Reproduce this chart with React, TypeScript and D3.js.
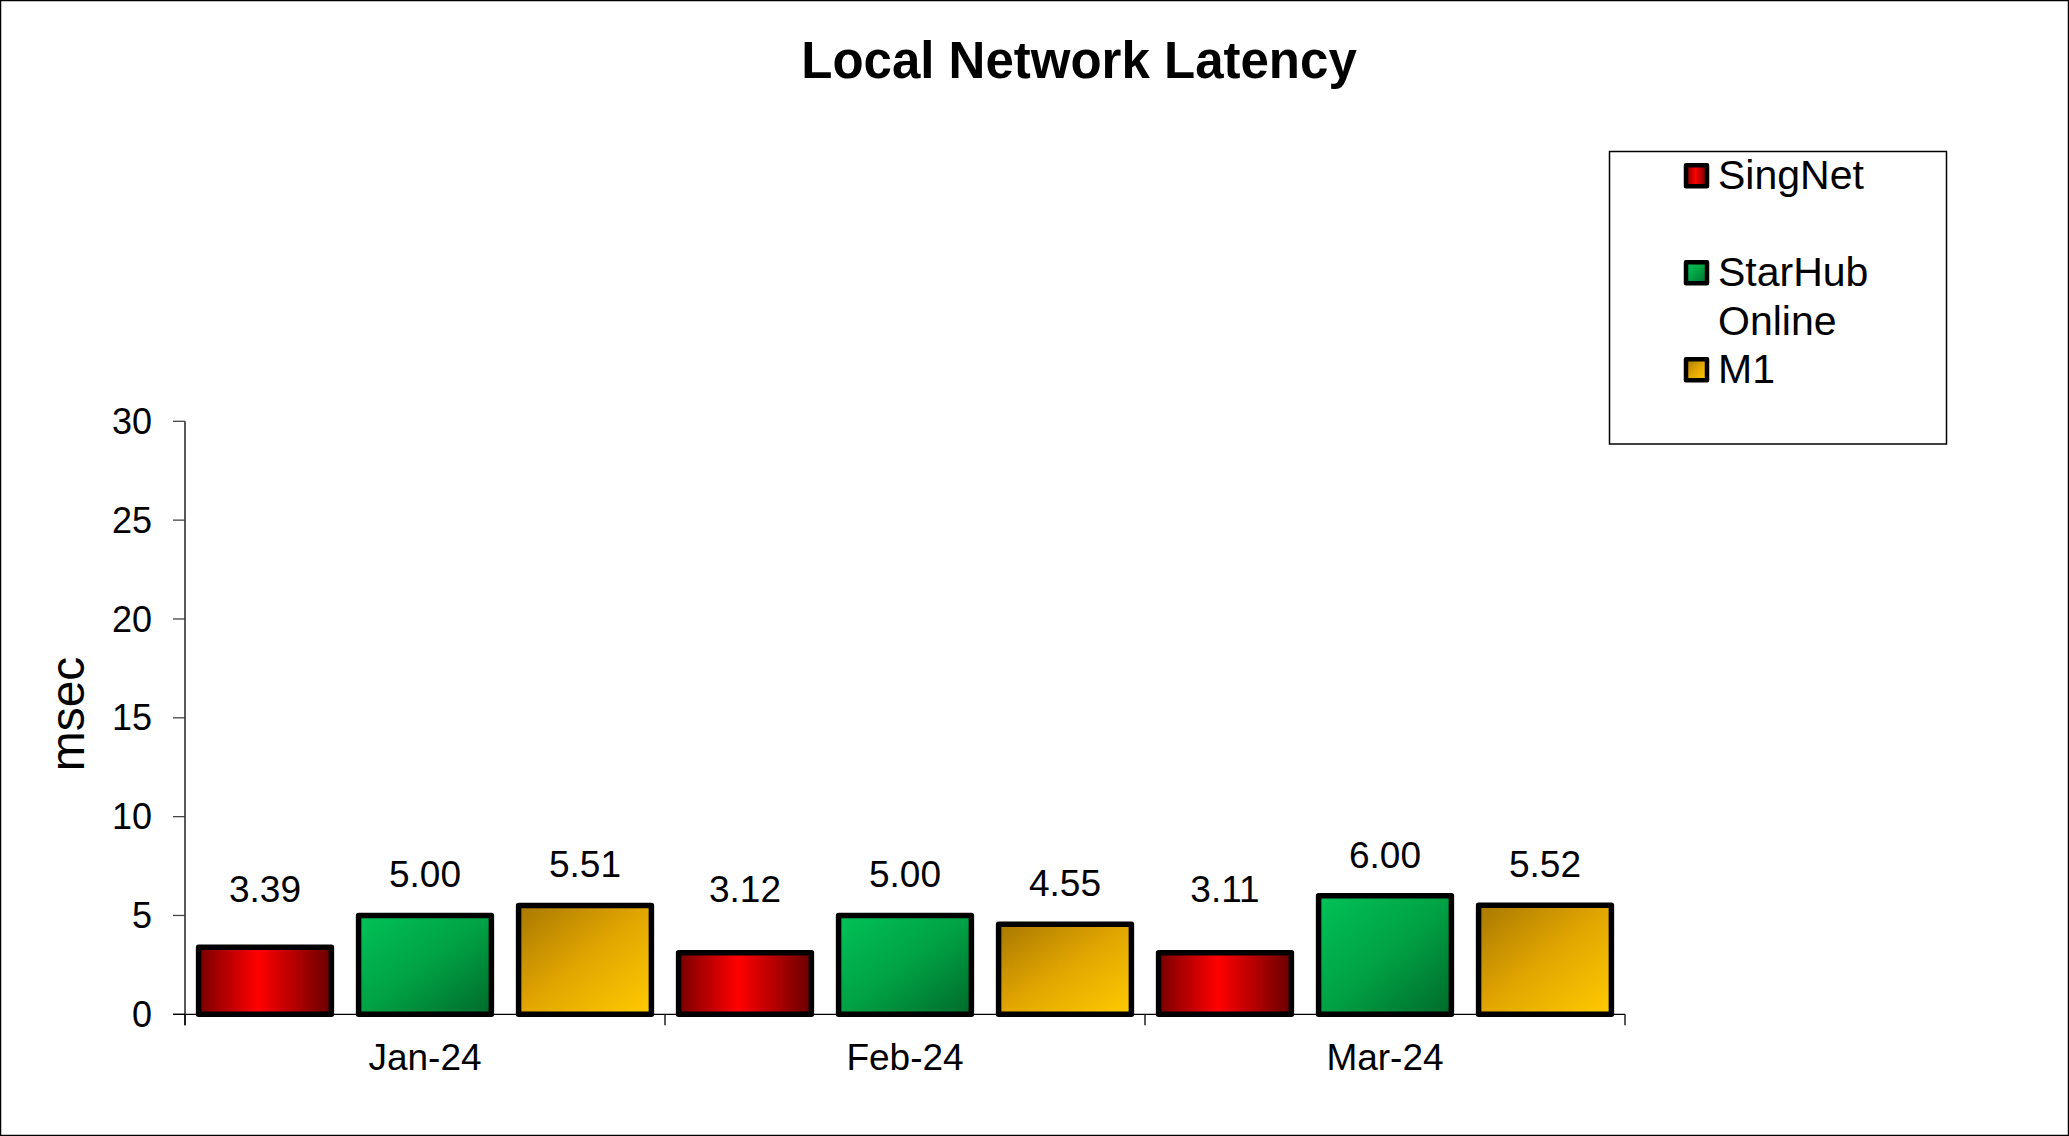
import * as d3 from 'd3';

const WIDTH = 2069;
const HEIGHT = 1136;

const CATEGORIES = ['Jan-24', 'Feb-24', 'Mar-24'];
const SERIES = ['SingNet', 'StarHub Online', 'M1'];
const SINGNET = [3.39, 3.12, 3.11];
const STARHUB = [5.0, 5.0, 6.0];
const M1 = [5.51, 4.55, 5.52];
const Y_TICKS = [0, 5, 10, 15, 20, 25, 30];
// legend text as it wraps in the original
const LEGEND_LINES = [['SingNet'], ['StarHub', 'Online'], ['M1']];

const VALUES = [SINGNET, STARHUB, M1];
const GRADIENT_IDS = ['grad-singnet', 'grad-starhub', 'grad-m1'];

const FONT = 'Liberation Sans, Arial, Helvetica, sans-serif';
const PLOT = { left: 185, right: 1625, top: 421.3, bottom: 1014.3 };

export default function App() {
  const x = d3.scaleBand<string>().domain(CATEGORIES).range([PLOT.left, PLOT.right]).padding(0);
  const xInner = d3
    .scaleBand<string>()
    .domain(SERIES)
    .range([0, x.bandwidth()])
    .paddingInner(0.17)
    .paddingOuter(0.085);
  const y = d3.scaleLinear().domain([0, 30]).range([PLOT.bottom, PLOT.top]);

  const catTicks = [...CATEGORIES.map((c) => x(c) as number), PLOT.right];

  // legend: each entry takes two text rows
  const legendRowH = 48.5;
  const legendFirstBaseline = 189.3;

  return (
    <svg
      width={WIDTH}
      height={HEIGHT}
      viewBox={`0 0 ${WIDTH} ${HEIGHT}`}
      style={{ position: 'absolute', left: 0, top: 0, background: '#ffffff' }}
      fontFamily={FONT}
    >
      <defs>
        <linearGradient id="grad-singnet" x1="0" y1="0" x2="1" y2="0">
          <stop offset="0" stopColor="#780000" />
          <stop offset="0.45" stopColor="#ff0000" />
          <stop offset="1" stopColor="#680000" />
        </linearGradient>
        <linearGradient id="grad-starhub" x1="0" y1="0" x2="1" y2="1">
          <stop offset="0" stopColor="#00c257" />
          <stop offset="0.5" stopColor="#00a244" />
          <stop offset="1" stopColor="#006a2b" />
        </linearGradient>
        <linearGradient id="grad-m1" x1="0" y1="0" x2="1" y2="1">
          <stop offset="0" stopColor="#a87800" />
          <stop offset="0.5" stopColor="#e2a600" />
          <stop offset="1" stopColor="#ffcb00" />
        </linearGradient>
      </defs>

      <rect x={0.5} y={0.5} width={WIDTH - 1} height={HEIGHT - 1} fill="#ffffff" stroke="#000" strokeWidth={1.5} />

      {/* title */}
      <text x={1079} y={78} textAnchor="middle" fontSize={51} fontWeight="bold" fill="#000">
        Local Network Latency
      </text>

      {/* y axis */}
      <line x1={PLOT.left} x2={PLOT.left} y1={PLOT.top} y2={PLOT.bottom + 11} stroke="#000" strokeWidth={1.3} />
      {Y_TICKS.map((t) => (
        <g key={t} transform={`translate(0, ${y(t)})`}>
          <line x1={PLOT.left - 12} x2={PLOT.left} stroke="#444" strokeWidth={1.3} />
          <text x={152} dy="0.35em" textAnchor="end" fontSize={36} fill="#000">
            {t}
          </text>
        </g>
      ))}
      <text
        transform={`translate(84, 714) rotate(-90)`}
        textAnchor="middle"
        fontSize={48}
        fill="#000"
      >
        msec
      </text>

      {/* x axis */}
      <line x1={PLOT.left - 12} x2={PLOT.right} y1={PLOT.bottom} y2={PLOT.bottom} stroke="#000" strokeWidth={1.3} />
      {catTicks.map((tx, i) => (
        <line key={i} x1={tx} x2={tx} y1={PLOT.bottom} y2={PLOT.bottom + 11} stroke="#000" strokeWidth={1.3} />
      ))}
      {CATEGORIES.map((c) => (
        <text
          key={c}
          x={(x(c) as number) + x.bandwidth() / 2}
          y={1070}
          textAnchor="middle"
          fontSize={37}
          fill="#000"
        >
          {c}
        </text>
      ))}

      {/* bars */}
      {CATEGORIES.map((c, ci) => (
        <g key={c} transform={`translate(${x(c)}, 0)`}>
          {SERIES.map((s, si) => {
            const v = VALUES[si][ci];
            const bx = xInner(s) as number;
            const top = y(v);
            const labelY = Math.min(top - 28, y(0) - 112);
            return (
              <g key={s}>
                <rect
                  x={bx}
                  y={top}
                  width={xInner.bandwidth()}
                  height={y(0) - top}
                  fill={`url(#${GRADIENT_IDS[si]})`}
                  stroke="#000"
                  strokeWidth={5.5}
                  strokeLinejoin="round"
                />
                <text
                  x={bx + xInner.bandwidth() / 2}
                  y={labelY}
                  textAnchor="middle"
                  fontSize={37}
                  fill="#000"
                >
                  {v.toFixed(2)}
                </text>
              </g>
            );
          })}
        </g>
      ))}

      {/* legend */}
      <rect x={1609.5} y={151.5} width={337} height={292.5} fill="#fff" stroke="#000" strokeWidth={1.5} />
      {LEGEND_LINES.map((lines, i) => {
        const base = legendFirstBaseline + i * 2 * legendRowH;
        return (
          <g key={SERIES[i]}>
            <rect
              x={1686}
              y={base - 24}
              width={21}
              height={21}
              fill={`url(#${GRADIENT_IDS[i]})`}
              stroke="#000"
              strokeWidth={4.5}
              strokeLinejoin="round"
            />
            {lines.map((ln, li) => (
              <text key={ln} x={1718} y={base + li * legendRowH} fontSize={41} fill="#000">
                {ln}
              </text>
            ))}
          </g>
        );
      })}
    </svg>
  );
}
